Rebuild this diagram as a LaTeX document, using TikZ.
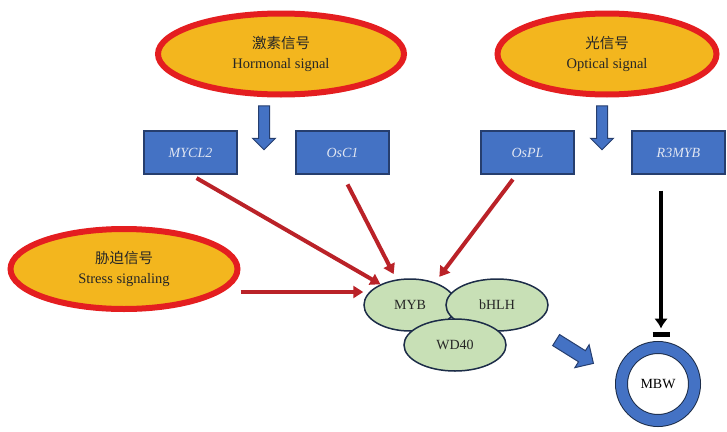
\documentclass[tikz,border=0pt]{standalone}
\usepackage{fontspec}
\setmainfont{Liberation Serif}
\newfontfamily\cjk{Noto Sans CJK SC}
\usepackage{tikz}
\usetikzlibrary{arrows.meta,positioning,shapes.geometric,shapes.arrows}
\definecolor{sigfill}{RGB}{243,182,30}
\definecolor{sigline}{RGB}{228,30,32}
\definecolor{genefill}{RGB}{68,114,196}
\definecolor{geneline}{RGB}{38,62,110}
\definecolor{genetext}{RGB}{225,230,242}
\definecolor{linkred}{RGB}{186,34,40}
\definecolor{tffill}{RGB}{200,224,182}
\definecolor{tfline}{RGB}{28,44,72}
\tikzset{
    %Define standard arrow tip
    >={Triangle[length=10pt,width=12pt]},
    %Define style for signal ellipses
    signal/.style={
           ellipse,
           draw=sigline, line width=6pt,
           fill=sigfill,
           inner sep=0pt,
           align=center,
           text=black!85,
           font=\fontsize{14.5}{20}\selectfont},
    %Define style for gene boxes
    gene/.style={
           rectangle,
           draw=geneline, line width=1.2pt,
           fill=genefill,
           minimum width=93pt,
           minimum height=43pt,
           text=genetext,
           font=\fontsize{14}{16}\selectfont\itshape},
    %Define style for the factors
    factor/.style={
           ellipse,
           draw=tfline, line width=1.5pt,
           fill=tffill,
           minimum height=52pt,
           inner sep=0pt,
           text=black!85,
           font=\fontsize{14}{16}\selectfont},
    %Define style for block arrows
    blockarrow/.style={
           single arrow,
           draw=geneline, line width=1pt,
           fill=genefill,
           inner xsep=0pt,
           inner ysep=5pt,
           minimum height=44pt,
           single arrow head extend=6pt},
    % Define arrow style
    pil/.style={
           ->,
           draw=linkred,
           line width=4pt}
}

\begin{document}
\begin{tikzpicture}[x=1pt,y=-1pt, ring/.style={circle, draw=tfline, double=genefill, double distance=11pt, line width=1pt, minimum size=73pt, inner sep=0pt, font=\fontsize{14}{16}\selectfont}]
\useasboundingbox (0,0) rectangle (727,431);
\node[signal, minimum width=246pt, minimum height=81pt](hormone) at (281,54){{\cjk 激素信号}\\Hormonal signal};
\node[signal, minimum width=219pt, minimum height=81pt](optic) at (607,54){{\cjk 光信号}\\Optical signal};
\node[signal, minimum width=227pt, minimum height=80pt](stress) at (124,269){{\cjk 胁迫信号}\\Stress signaling};
\node[gene](mycl2) at (190.5,152.5){MYCL2};
\node[gene](osc1) at (342.5,152.5){OsC1};
\node[gene](ospl) at (527.5,152.5){OsPL};
\node[gene](r3myb) at (678.5,152.5){R3MYB};
\node[blockarrow, rotate=-90](harrow) at (264,125){};
\node[blockarrow, rotate=-90](oarrow) at (602,125){};
\node[factor, minimum width=92pt](myb) at (410,305){MYB};
\node[factor, minimum width=102pt](bhlh) at (497,305){bHLH};
\node[factor, minimum width=102pt](wd40) at (455,345){WD40};
\node[blockarrow, rotate=-32, inner ysep=6pt, single arrow head extend=7pt](darrow) at (572,350){};
\node[ring](mbw) at (658,384){MBW};
\coordinate (s1) at ([yshift=-23pt]stress.east);
\coordinate (tee) at (661,334.5);
\path[]
	(mycl2.south) edge[pil, shorten <=7pt] (myb.145)
	(osc1.south) edge[pil, shorten <=11pt, shorten >=6pt] (myb.118)
	([xshift=-11pt]ospl.south) edge[pil, shorten <=6pt, shorten >=7pt] (myb.42)
	(s1) edge[pil] (s1 -| myb.west);
\draw[-{Latex[length=10pt,width=14pt]}, line width=4pt, shorten <=16pt, shorten >=6pt] (r3myb.south -| tee) -- (tee);
\draw[line width=5pt] ([xshift=-8.5pt]tee) -- ([xshift=8.5pt]tee);
\end{tikzpicture}
\end{document}
